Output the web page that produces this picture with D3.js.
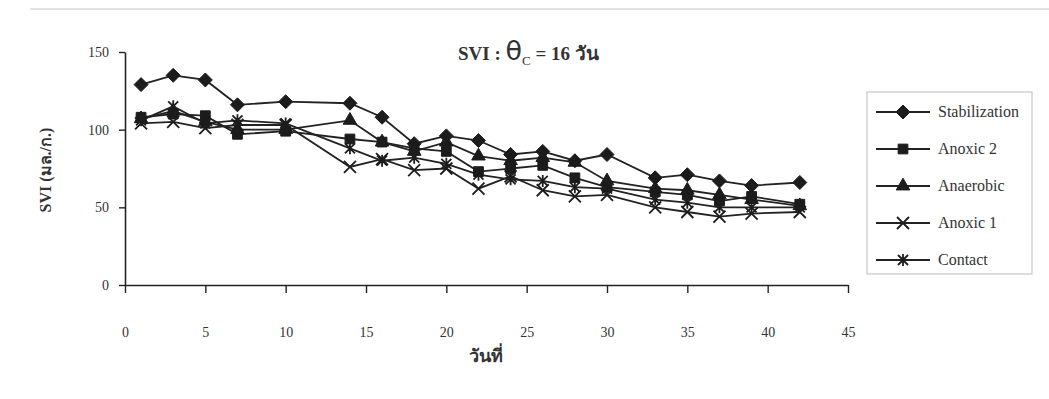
<!DOCTYPE html>
<html>
<head>
<meta charset="utf-8">
<script src="https://cdn.jsdelivr.net/npm/d3@7"></script>
<style>
  body { margin: 0; background: #fff; }
  text { font-family: "Liberation Serif", "Times New Roman", serif; fill: #333; }
</style>
</head>
<body>
<div id="chart"></div>
<script>
// days and SVI values
var days = [1, 3, 5, 7, 10, 14, 16, 18, 20, 22, 24, 26, 28, 30, 33, 35, 37, 39, 42];
var stabilization = [129, 135, 132, 116, 118, 117, 108, 91, 96, 93, 84, 86, 80, 84, 69, 71, 67, 64, 66];
var anoxic2 = [108, 110, 109, 97, 99, 94, 92, 88, 86, 73, 75, 77, 69, 63, 60, 58, 54, 57, 52];
var anaerobic = [107, 112, 105, 100, 100, 106, 92, 86, 92, 83, 80, 82, 79, 67, 62, 61, 58, 55, 51];
var anoxic1 = [104, 105, 101, 103, 103, 76, 81, 74, 75, 62, 70, 61, 57, 58, 50, 47, 44, 46, 47];
var contact = [106, 115, 104, 106, 104, 88, 80, 82, 78, 71, 68, 67, 63, 62, 55, 53, 50, 50, 50];
var seriesNames = ["Stabilization", "Anoxic 2", "Anaerobic", "Anoxic 1", "Contact"];
var seriesMarks = ["diamond", "square", "triangle", "x", "star"];
var xTicks = [0, 5, 10, 15, 20, 25, 30, 35, 40, 45];
var yTicks = [0, 50, 100, 150];

var allValues = [stabilization, anoxic2, anaerobic, anoxic1, contact];

var W = 1049, H = 399;
var svg = d3.select("#chart").append("svg").attr("width", W).attr("height", H);

// faint scan edge at the top
svg.append("line").attr("x1", 30).attr("x2", W).attr("y1", 9).attr("y2", 9)
  .attr("stroke", "#c8c8c8").attr("stroke-width", 1);

var x = d3.scaleLinear().domain([0, 45]).range([125, 848]);
var y = d3.scaleLinear().domain([0, 150]).range([285, 52]);

// axes
var xAxis = svg.append("g").attr("transform", "translate(0,285)")
  .call(d3.axisBottom(x).tickValues(xTicks).tickSize(8).tickPadding(34).tickSizeOuter(0));
var yAxis = svg.append("g").attr("transform", "translate(125,0)")
  .call(d3.axisLeft(y).tickValues(yTicks).tickSize(6).tickPadding(10).tickSizeOuter(0));
[xAxis, yAxis].forEach(function (g) {
  g.select(".domain").attr("stroke", "#222").attr("stroke-width", 1.6);
  g.selectAll(".tick line").attr("stroke", "#222").attr("stroke-width", 1.4);
  g.selectAll(".tick text").attr("fill", "#555").style("font-size", "14px")
    .style("font-family", "'Liberation Serif', serif");
});

function markPath(kind) {
  if (kind === "diamond") return "M0,-7L7,0L0,7L-7,0Z";
  if (kind === "square") return d3.symbol().type(d3.symbolSquare).size(95)();
  if (kind === "triangle") return d3.symbol().type(d3.symbolTriangle).size(80)();
  if (kind === "x") return "M-6,-6L6,6M-6,6L6,-6";
  return "M-5,-5L5,5M-5,5L5,-5M0,-6L0,6";
}

var line = d3.line().x(function (d) { return x(d[0]); }).y(function (d) { return y(d[1]); });

allValues.forEach(function (vals, i) {
  var pts = days.map(function (d, j) { return [d, vals[j]]; });
  svg.append("path").datum(pts).attr("d", line)
    .attr("fill", "none").attr("stroke", "#222").attr("stroke-width", 1.8);
});
allValues.forEach(function (vals, i) {
  var kind = seriesMarks[i];
  var open = kind === "x" || kind === "star";
  svg.append("g").selectAll("path").data(days).enter().append("path")
    .attr("transform", function (d, j) { return "translate(" + x(d) + "," + y(vals[j]) + ")"; })
    .attr("d", markPath(kind))
    .attr("fill", open ? "none" : "#1c1c1c")
    .attr("stroke", "#1c1c1c").attr("stroke-width", open ? 1.8 : 1);
});

// title
var title = svg.append("text").attr("x", 458).attr("y", 60)
  .style("font-size", "19px").style("font-weight", "bold").attr("fill", "#222");
title.append("tspan").text("SVI : ");
title.append("tspan").text("θ").style("font-weight", "normal").style("font-size", "27px")
  .style("font-family", "'DejaVu Sans', sans-serif");
title.append("tspan").text("C").attr("dy", 5).style("font-weight", "normal").style("font-size", "13px");
title.append("tspan").text(" = 16 วัน").attr("dy", -5);

// axis titles
svg.append("text").attr("transform", "translate(51,170) rotate(-90)")
  .attr("text-anchor", "middle").style("font-size", "16px").style("font-weight", "bold")
  .attr("fill", "#222").text("SVI (มล./ก.)");
svg.append("text").attr("x", 486).attr("y", 362).attr("text-anchor", "middle")
  .style("font-size", "18px").style("font-weight", "bold").attr("fill", "#222").text("วันที่");

// legend
var legend = svg.append("g");
legend.append("rect").attr("x", 867).attr("y", 92).attr("width", 165).attr("height", 182)
  .attr("fill", "#fff").attr("stroke", "#bbb").attr("stroke-width", 1);
seriesNames.forEach(function (name, i) {
  var ly = 112 + i * 37;
  var kind = seriesMarks[i];
  var open = kind === "x" || kind === "star";
  legend.append("line").attr("x1", 876).attr("x2", 930).attr("y1", ly).attr("y2", ly)
    .attr("stroke", "#222").attr("stroke-width", 1.8);
  legend.append("path").attr("transform", "translate(903," + ly + ")").attr("d", markPath(kind))
    .attr("fill", open ? "none" : "#1c1c1c").attr("stroke", "#1c1c1c").attr("stroke-width", open ? 1.8 : 1);
  legend.append("text").attr("x", 938).attr("y", ly + 5).style("font-size", "16px")
    .attr("fill", "#333").text(name);
});
</script>
</body>
</html>
